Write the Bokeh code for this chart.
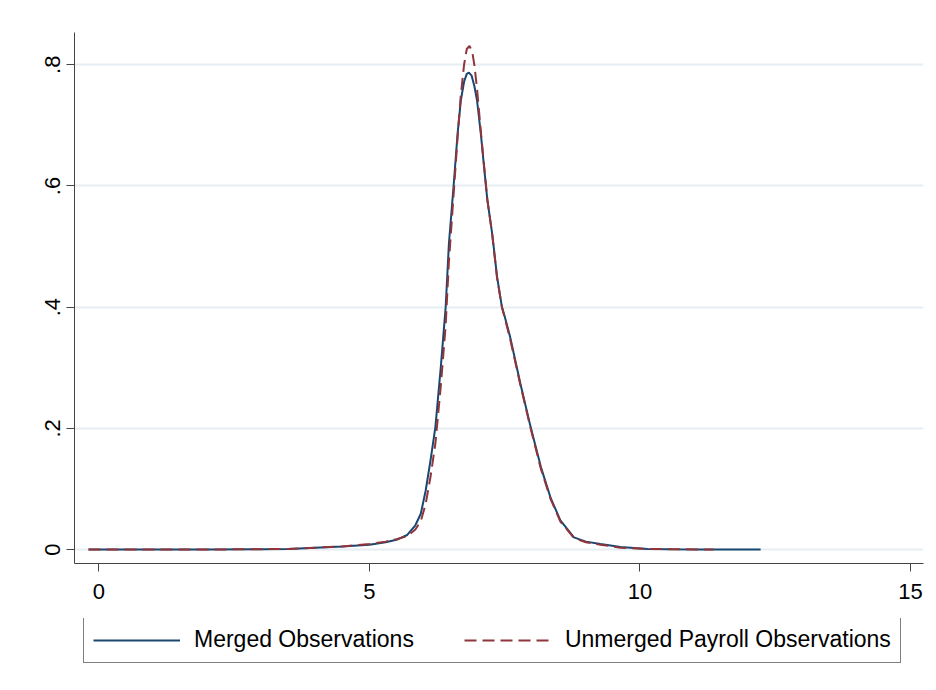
from bokeh.plotting import figure
from bokeh.layouts import column
from bokeh.models import Legend, LegendItem, Range1d, FixedTicker
from bokeh.embed import file_html
from bokeh.resources import INLINE

# --- data ---
merged_x = [-0.19, 1.0, 2.0, 3.0, 3.5, 4.0, 4.5, 5.0, 5.3, 5.5, 5.7, 5.85, 5.95, 6.04,
            6.13, 6.22, 6.32, 6.41, 6.47, 6.56, 6.63, 6.69, 6.75, 6.80, 6.84, 6.89,
            6.94, 6.99, 7.06, 7.12, 7.18, 7.27, 7.36, 7.45, 7.50, 7.60, 7.79, 7.98,
            8.17, 8.35, 8.53, 8.78, 9.0, 9.27, 9.64, 10.14, 10.6, 11.0, 12.23]
merged_y = [0.0, 0.0, 0.0, 0.0005, 0.001, 0.003, 0.005, 0.008, 0.012, 0.016, 0.024, 0.040,
            0.059, 0.097, 0.147, 0.202, 0.301, 0.400, 0.505, 0.604, 0.686, 0.741, 0.772,
            0.785, 0.787, 0.782, 0.765, 0.741, 0.686, 0.631, 0.577, 0.521, 0.450, 0.400,
            0.385, 0.351, 0.274, 0.202, 0.136, 0.085, 0.048, 0.020, 0.013, 0.009, 0.004,
            0.001, 0.0005, 0.0002, 0.0]

unmerged_x = [-0.19, 1.0, 2.0, 3.0, 3.5, 4.0, 4.5, 5.0, 5.3, 5.5, 5.7, 5.85, 5.95, 6.04,
              6.13, 6.22, 6.32, 6.41, 6.47, 6.56, 6.63, 6.69, 6.75, 6.80, 6.85, 6.90,
              6.94, 6.99, 7.06, 7.12, 7.18, 7.27, 7.36, 7.45, 7.50, 7.60, 7.79, 7.98,
              8.17, 8.35, 8.53, 8.78, 9.0, 9.27, 9.64, 10.14, 10.6, 11.36]
unmerged_y = [0.0, 0.0, 0.0, 0.0005, 0.001, 0.003, 0.005, 0.009, 0.013, 0.017, 0.022, 0.033,
              0.047, 0.075, 0.120, 0.175, 0.270, 0.370, 0.475, 0.590, 0.680, 0.750, 0.800,
              0.826, 0.831, 0.822, 0.800, 0.760, 0.690, 0.633, 0.578, 0.520, 0.448, 0.400,
              0.383, 0.348, 0.272, 0.200, 0.133, 0.083, 0.046, 0.019, 0.012, 0.008, 0.003,
              0.001, 0.0004, 0.0]

x_ticks = [0, 5, 10, 15]
y_ticks = [0, 0.2, 0.4, 0.6, 0.8]
y_tick_labels = ["0", ".2", ".4", ".6", ".8"]
series_names = ["Merged Observations", "Unmerged Payroll Observations"]

NAVY = "#1a476f"
MAROON = "#90353b"
FONT = "Liberation Sans"
DASH = "12 6"

p = figure(frame_width=849, frame_height=531, output_backend="svg", toolbar_location=None,
           x_range=Range1d(-0.449, 15.24), y_range=Range1d(-0.0231, 0.8533),
           min_border_left=74, min_border_right=5, min_border_top=32, min_border_bottom=54)
p.outline_line_color = None
p.background_fill_color = "white"
p.border_fill_color = "white"

p.line(merged_x, merged_y, line_color=NAVY, line_width=2)
p.line(unmerged_x, unmerged_y, line_color=MAROON, line_width=2, line_dash=DASH)

# axes
for ax in (p.xaxis[0], p.yaxis[0]):
    ax.axis_line_color = "#444444"
    ax.axis_line_width = 1
    ax.major_tick_line_color = "#444444"
    ax.major_tick_out = 8
    ax.major_tick_in = 0
    ax.minor_tick_out = 0
    ax.minor_tick_in = 0
    ax.major_label_text_font = FONT
    ax.major_label_text_font_size = "22px"
    ax.major_label_text_color = "black"

p.xaxis.ticker = FixedTicker(ticks=x_ticks)
p.xaxis.major_label_standoff = 12
p.yaxis.ticker = FixedTicker(ticks=y_ticks)
p.yaxis.major_label_overrides = {t: l for t, l in zip(y_ticks, y_tick_labels)}
p.yaxis.major_label_orientation = "vertical"
p.yaxis.major_label_standoff = 6

p.xgrid.grid_line_color = None
p.ygrid.grid_line_color = "#e6eef2"
p.ygrid.grid_line_width = 2
p.ygrid.ticker = FixedTicker(ticks=y_ticks)

# legend strip below the plot (same borders so the column keeps frames aligned)
lg = figure(frame_width=849, frame_height=55, output_backend="svg", toolbar_location=None,
            x_axis_type=None, y_axis_type=None,
            x_range=Range1d(0, 1), y_range=Range1d(0, 1),
            min_border_left=74, min_border_right=5, min_border_top=1, min_border_bottom=0)
lg.outline_line_color = None
lg.xgrid.grid_line_color = None
lg.ygrid.grid_line_color = None
lg.border_fill_color = "white"
k1 = lg.line([-5], [-5], line_color=NAVY, line_width=2)
k2 = lg.line([-5], [-5], line_color=MAROON, line_width=2, line_dash=DASH)

legend = Legend(items=[LegendItem(label=series_names[0], renderers=[k1]),
                       LegendItem(label=series_names[1], renderers=[k2])],
                location=(9, 10), orientation="horizontal",
                glyph_width=87, glyph_height=20, label_standoff=14, spacing=50,
                padding=9, margin=0,
                label_text_font=FONT, label_text_font_size="23px",
                label_text_color="black",
                border_line_color="black", border_line_width=1,
                background_fill_color="white", background_fill_alpha=1.0)
lg.add_layout(legend)

layout = column(p, lg, spacing=0)
open("out.html", "w").write(file_html(layout, INLINE))
